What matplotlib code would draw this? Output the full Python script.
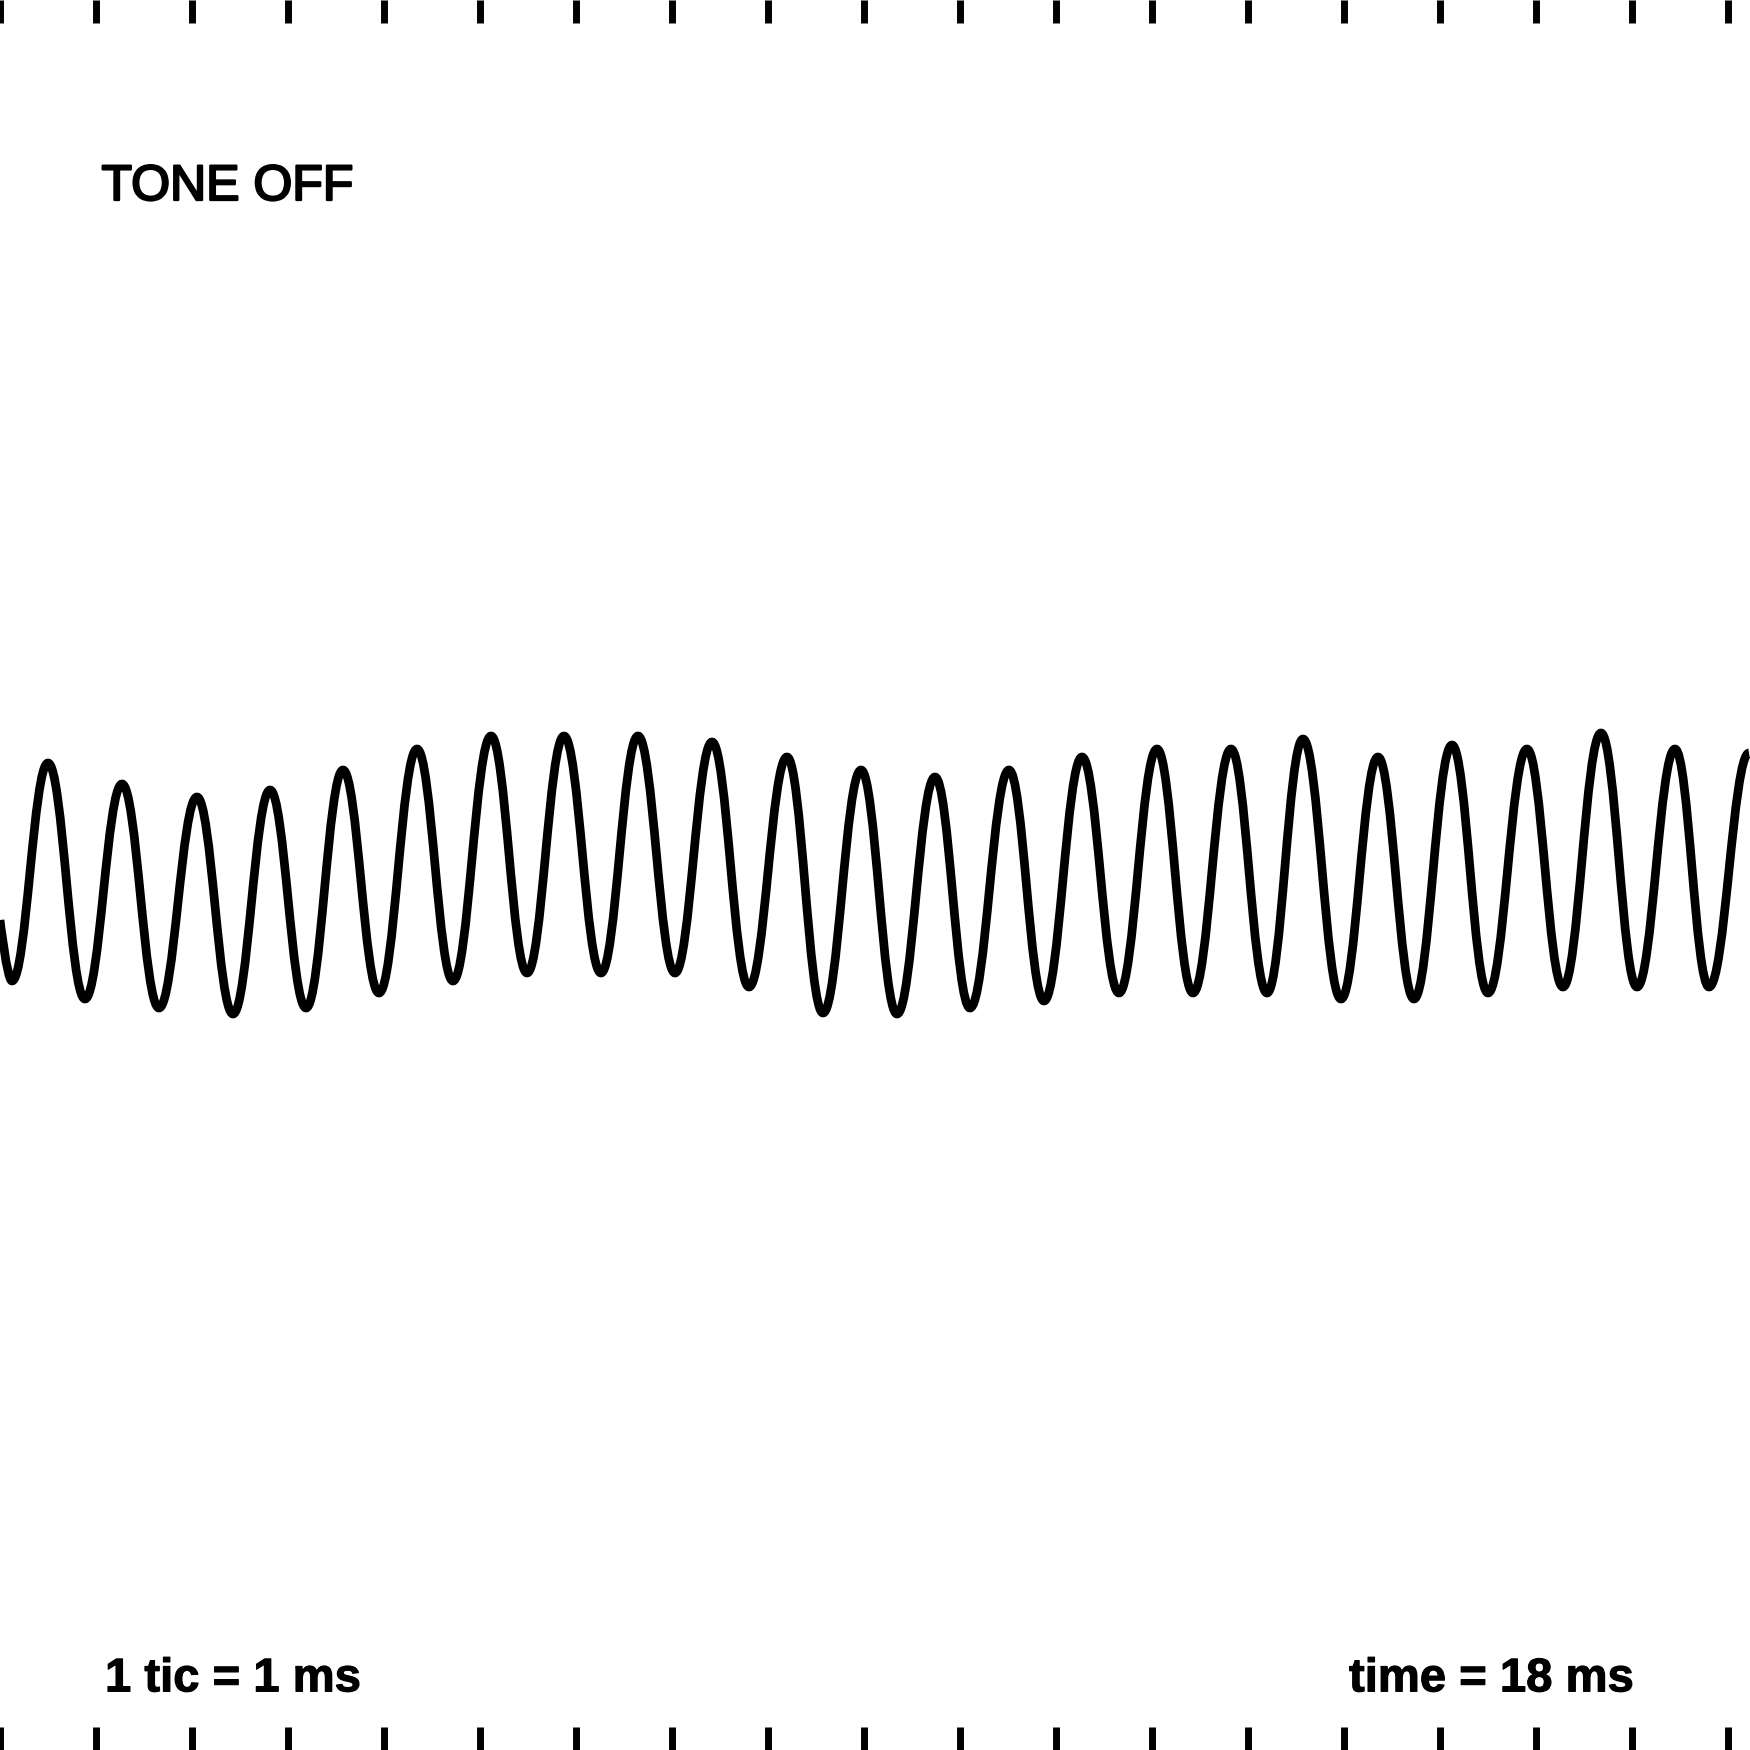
import matplotlib.pyplot as plt
import matplotlib.patheffects as pe
from matplotlib.path import Path
from matplotlib.patches import PathPatch

# trace turning points: time (ms) and level (div)
t_ext = [0.000, 0.125, 0.500, 0.885, 1.271, 1.656, 2.052, 2.427, 2.813, 3.188,
         3.573, 3.948, 4.344, 4.719, 5.115, 5.490, 5.875, 6.260, 6.646, 7.031,
         7.417, 7.802, 8.198, 8.573, 8.969, 9.344, 9.740, 10.104, 10.510, 10.875,
         11.271, 11.656, 12.052, 12.427, 12.823, 13.198, 13.573, 13.969, 14.354, 14.729,
         15.125, 15.500, 15.906, 16.281, 16.677, 17.052, 17.448, 17.802, 18.219]
v_ext = [-0.45, -1.06, 1.12, -1.24, 0.91, -1.33, 0.78, -1.39, 0.85, -1.33,
         1.05, -1.18, 1.26, -1.06, 1.39, -0.98, 1.39, -0.98, 1.39, -0.98,
         1.33, -1.12, 1.18, -1.38, 1.05, -1.39, 0.98, -1.33, 1.05, -1.26,
         1.18, -1.18, 1.26, -1.18, 1.26, -1.18, 1.36, -1.24, 1.18, -1.24,
         1.30, -1.18, 1.26, -1.12, 1.42, -1.12, 1.26, -1.12, 1.22]

tic_ms = list(range(19))
span_ms = 1750 / 96          # screen width in ms (one tic = 96 px)

label_top = 'TONE OFF'
label_scale = '1 tic = 1 ms'
label_time = 'time = 18 ms'

plt.rcParams['font.family'] = ['Liberation Sans', 'DejaVu Sans']

fig = plt.figure(figsize=(17.5, 17.5), dpi=100)
ax = fig.add_axes([0, 0, 1, 1])
ax.set_xlim(0, span_ms)
ax.set_ylim(-8.75, 8.75)

# smooth trace between turning points (flat at each peak)
k = 0.4
verts = [(t_ext[0], v_ext[0])]
codes = [Path.MOVETO]
for i in range(1, len(t_ext)):
    dx = t_ext[i] - t_ext[i - 1]
    if i == 1:
        c1 = (t_ext[0], v_ext[0])
    else:
        c1 = (t_ext[i - 1] + k * dx, v_ext[i - 1])
    c2 = (t_ext[i] - k * dx, v_ext[i])
    verts += [c1, c2, (t_ext[i], v_ext[i])]
    codes += [Path.CURVE4] * 3
ax.add_patch(PathPatch(Path(verts, codes), fill=False, lw=6.3, ec='black',
                       joinstyle='round'))

ax.set_xticks(tic_ms)
ax.set_yticks([])
ax.tick_params(axis='x', direction='in', top=True, bottom=True, length=16.5,
               width=5, color='black', labelbottom=False, labeltop=False)
for s in ax.spines.values():
    s.set_visible(False)

ax.text(0.058, 0.8857, label_top, transform=ax.transAxes, fontsize=36,
        ha='left', va='baseline',
        path_effects=[pe.withStroke(linewidth=1.6, foreground='black')])
ax.text(0.060, 0.0335, label_scale, transform=ax.transAxes, fontsize=34,
        fontweight='bold', ha='left', va='baseline',
        path_effects=[pe.withStroke(linewidth=0.8, foreground='black')])
ax.text(0.934, 0.0335, label_time, transform=ax.transAxes, fontsize=34,
        fontweight='bold', ha='right', va='baseline',
        path_effects=[pe.withStroke(linewidth=0.8, foreground='black')])

fig.savefig('out.png', dpi=100, facecolor='white')
